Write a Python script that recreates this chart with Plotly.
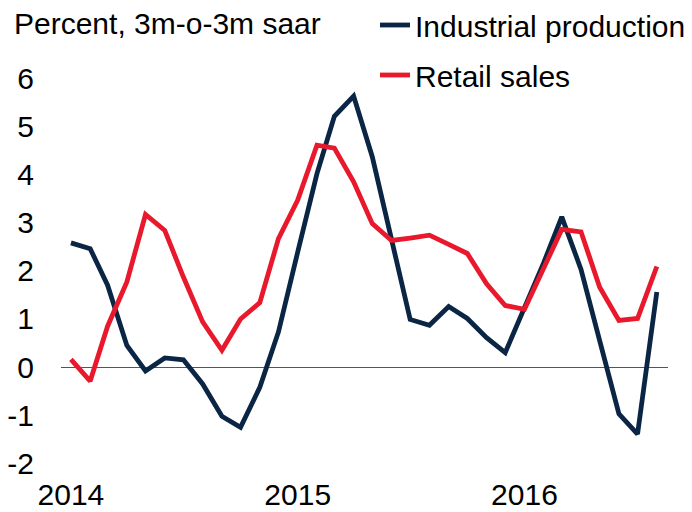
import pandas as pd
import plotly.graph_objects as go

months = pd.date_range("2014-01-01", "2016-08-01", freq="MS")

industrial_production = [
    2.58, 2.46, 1.70, 0.45, -0.08, 0.19, 0.15, -0.35, -1.02, -1.25, -0.42, 0.73,
    2.39, 4.02, 5.21, 5.63, 4.37, 2.62, 0.99, 0.87, 1.26, 1.01, 0.61, 0.30,
    1.22, 2.17, 3.12, 2.03, 0.55, -0.97, -1.39, 1.56,
]
retail_sales = [
    0.16, -0.29, 0.85, 1.77, 3.17, 2.84, 1.87, 0.94, 0.35, 1.00, 1.34, 2.67,
    3.47, 4.61, 4.55, 3.85, 2.98, 2.63, 2.68, 2.74, 2.55, 2.36, 1.73, 1.28,
    1.20, 2.05, 2.86, 2.81, 1.66, 0.97, 1.01, 2.09,
]

tick_vals = ["2014-01-01", "2015-01-01", "2016-01-01"]
tick_text = ["2014", "2015", "2016"]
y_ticks = [-2, -1, 0, 1, 2, 3, 4, 5, 6]
y_tick_text = ["-2", "-1", "0", "1", "2", "3", "4", "5", "6"]

NAVY = "#0b2545"
RED = "#e8192c"
FONT = "Liberation Sans, Arial, sans-serif"

W, H = 684, 504
ML, MR, MT, MB = 53, 24, 51, 39
PW, PH = W - ML - MR, H - MT - MB

fig = go.Figure()
fig.add_trace(go.Scatter(
    x=months, y=industrial_production, mode="lines", name="Industrial production",
    legendgroup="ip",
    line=dict(color=NAVY, width=4.8),
))
fig.add_trace(go.Scatter(
    x=months, y=retail_sales, mode="lines", name="Retail sales",
    legendgroup="rs",
    line=dict(color=RED, width=4.8),
))

fig.update_layout(
    width=W, height=H,
    margin=dict(l=ML, r=MR, t=MT, b=MB, autoexpand=False),
    paper_bgcolor="white", plot_bgcolor="white",
    font=dict(family=FONT, size=30, color="black"),
    title=dict(text="Percent, 3m-o-3m saar", xref="container", yref="container",
               x=6 / W, xanchor="left", y=1 - 15 / H, yanchor="middle",
               font=dict(size=30, family=FONT, color="black")),
    legend=dict(xref="paper", yref="paper", x=(367 - ML) / PW, xanchor="left",
                y=(PH + MT + 9) / PH, yanchor="top", bgcolor="rgba(0,0,0,0)",
                font=dict(size=30, family=FONT, color="black"),
                tracegroupgap=8, itemwidth=30),
    showlegend=True,
)
fig.update_xaxes(
    range=["2013-12-16", "2016-08-19"],
    tickvals=tick_vals, ticktext=tick_text,
    showgrid=False, zeroline=False, showline=False, ticks="",
    ticklabelstandoff=1,
    tickfont=dict(size=30, family=FONT, color="black"),
)
fig.update_yaxes(
    range=[-2.2, 6.4], tickvals=y_ticks, ticktext=y_tick_text,
    showgrid=False, zeroline=True, zerolinecolor="#555555", zerolinewidth=1,
    showline=False, ticks="", ticklabelstandoff=26,
    tickfont=dict(size=30, family=FONT, color="black"),
)

fig.write_html("out.html")
